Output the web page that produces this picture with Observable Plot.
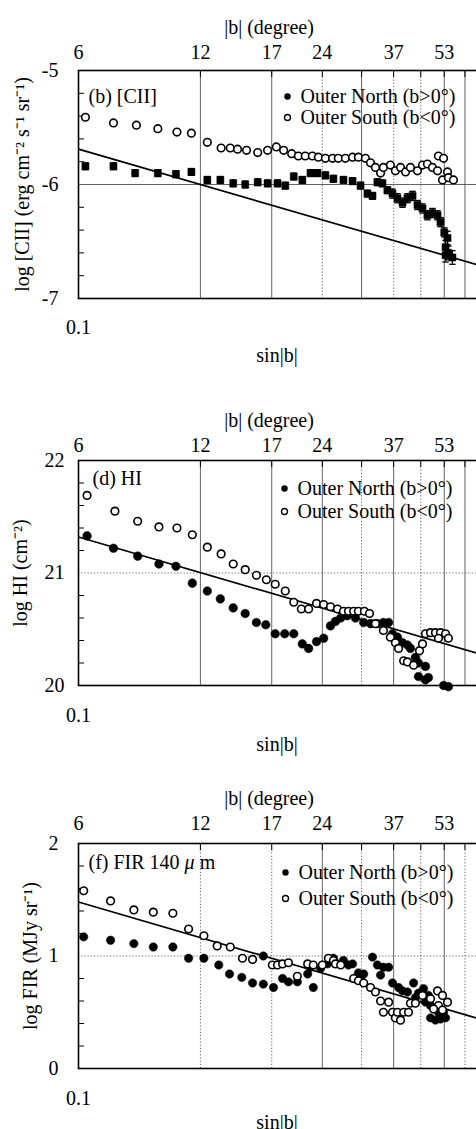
<!DOCTYPE html>
<html>
<head>
<meta charset="utf-8">
<script src="https://cdn.jsdelivr.net/npm/d3@7"></script>
<script src="https://cdn.jsdelivr.net/npm/@observablehq/plot@0.6"></script>
<style>
  html, body { margin: 0; padding: 0; background: #fff; overflow: hidden; }
  #chart { width: 476px; }
  #chart svg { display: block; }
</style>
</head>
<body>
<div id="chart"></div>
<script>
// ---------- shared axis data ----------
const degLabels  = ["6", "12", "17", "24", "37", "53"];
const degTickSin = [0.1, 0.2, 0.3, 0.4, 0.6, 0.8];
const topTickSin = [0.2, 0.3, 0.4, 0.5, 0.6, 0.7, 0.8, 0.9];
const bottomTicks = [0.1, 1];
const fitSin = [0.1, 1];

// ---------- (b) [CII] ----------
const ciiNorthSin = [0.104,0.122,0.138,0.157,0.174,0.190,0.208,0.224,0.241,0.258,0.277,0.293,0.310,0.324,0.340,0.357,0.374,0.389,0.407,0.426,0.451,0.475,0.497,0.517,0.532,0.547,0.563,0.579,0.596,0.613,0.631,0.649,0.668,0.687,0.707,0.727,0.748,0.770,0.783,0.800,0.815,0.806,0.819,0.838,0.806];
const ciiNorthLog = [-5.84,-5.84,-5.90,-5.90,-5.91,-5.89,-5.96,-5.96,-5.99,-6.00,-5.98,-5.99,-5.99,-6.01,-5.93,-5.96,-5.90,-5.90,-5.92,-5.95,-5.96,-5.97,-6.01,-6.08,-6.10,-5.98,-5.99,-6.05,-6.08,-6.12,-6.16,-6.12,-6.10,-6.18,-6.21,-6.27,-6.25,-6.27,-6.33,-6.42,-6.47,-6.55,-6.60,-6.64,-6.62];
const ciiNorthErr = [0.03,0.03,0.03,0.03,0.03,0.03,0.03,0.03,0.03,0.03,0.03,0.03,0.03,0.03,0.03,0.03,0.03,0.03,0.03,0.03,0.03,0.03,0.03,0.03,0.03,0.03,0.03,0.03,0.04,0.04,0.04,0.04,0.04,0.04,0.04,0.04,0.04,0.04,0.04,0.04,0.06,0.06,0.06,0.06,0.06];
const ciiSouthSin = [0.104,0.122,0.139,0.157,0.175,0.190,0.208,0.225,0.237,0.247,0.260,0.277,0.293,0.308,0.321,0.336,0.349,0.363,0.378,0.391,0.407,0.424,0.438,0.456,0.475,0.491,0.511,0.526,0.541,0.557,0.566,0.589,0.606,0.624,0.642,0.660,0.687,0.707,0.727,0.748,0.770,0.774,0.797,0.815,0.792,0.819,0.843];
const ciiSouthLog = [-5.41,-5.46,-5.48,-5.51,-5.54,-5.55,-5.63,-5.68,-5.68,-5.69,-5.70,-5.72,-5.70,-5.67,-5.70,-5.73,-5.75,-5.75,-5.75,-5.76,-5.77,-5.77,-5.77,-5.77,-5.76,-5.76,-5.77,-5.81,-5.85,-5.90,-5.85,-5.83,-5.88,-5.85,-5.89,-5.85,-5.88,-5.83,-5.82,-5.85,-5.88,-5.75,-5.77,-5.89,-5.96,-5.94,-5.96];
const ciiFit = [-5.69, -6.72];
const ciiYMajor = [-5, -6, -7];
const ciiYMinor = [-5.2,-5.4,-5.6,-5.8,-6.2,-6.4,-6.6,-6.8];

// ---------- (d) HI ----------
const hiNorthSin = [0.105,0.122,0.140,0.158,0.174,0.191,0.208,0.224,0.241,0.258,0.275,0.290,0.306,0.323,0.340,0.357,0.370,0.387,0.403,0.419,0.431,0.444,0.461,0.483,0.506,0.526,0.547,0.566,0.583,0.596,0.613,0.631,0.649,0.660,0.679,0.691,0.719,0.691,0.719,0.731,0.797,0.819];
const hiNorthLog = [21.33,21.22,21.15,21.08,21.06,20.91,20.84,20.77,20.69,20.64,20.56,20.54,20.46,20.46,20.46,20.37,20.33,20.39,20.42,20.53,20.57,20.60,20.62,20.60,20.56,20.55,20.55,20.56,20.56,20.46,20.43,20.38,20.36,20.33,20.25,20.20,20.17,20.08,20.05,20.07,20.00,19.99];
const hiSouthSin = [0.105,0.123,0.140,0.158,0.175,0.191,0.208,0.225,0.241,0.258,0.275,0.291,0.306,0.324,0.340,0.355,0.370,0.387,0.403,0.419,0.436,0.451,0.464,0.478,0.491,0.508,0.523,0.541,0.566,0.589,0.606,0.617,0.635,0.649,0.672,0.695,0.707,0.719,0.740,0.761,0.783,0.806,0.819,0.774];
const hiSouthLog = [21.69,21.55,21.46,21.41,21.40,21.34,21.23,21.17,21.08,21.03,20.98,20.94,20.90,20.84,20.74,20.68,20.68,20.73,20.72,20.70,20.68,20.66,20.66,20.66,20.66,20.66,20.64,20.55,20.49,20.43,20.38,20.33,20.22,20.21,20.18,20.31,20.37,20.46,20.47,20.47,20.47,20.46,20.42,20.42];
const hiFit = [21.32, 20.27];
const hiYMajor = [22, 21, 20];
const hiYMinor = [21.8,21.6,21.4,21.2,20.8,20.6,20.4,20.2];

// ---------- (f) FIR 140 um ----------
const firNorthSin = [0.103,0.120,0.137,0.153,0.171,0.187,0.204,0.222,0.236,0.253,0.269,0.286,0.303,0.286,0.319,0.330,0.347,0.368,0.380,0.374,0.396,0.412,0.426,0.419,0.431,0.451,0.464,0.475,0.491,0.506,0.497,0.532,0.547,0.566,0.583,0.557,0.596,0.617,0.631,0.649,0.672,0.691,0.679,0.711,0.731,0.740,0.740,0.761,0.783,0.806,0.797,0.774,0.719];
const firNorthLog = [1.17,1.14,1.11,1.08,1.08,0.98,0.98,0.92,0.84,0.81,0.76,0.75,0.72,1.00,0.80,0.77,0.77,0.84,0.72,0.90,0.89,0.93,0.98,0.96,0.94,0.96,0.92,0.93,0.85,0.84,0.81,0.99,0.92,0.90,0.90,0.83,0.76,0.72,0.69,0.68,0.76,0.67,0.63,0.71,0.65,0.56,0.45,0.43,0.44,0.45,0.50,0.50,0.59];
const firSouthSin = [0.103,0.120,0.137,0.153,0.171,0.187,0.204,0.220,0.237,0.254,0.269,0.301,0.310,0.319,0.330,0.347,0.368,0.380,0.400,0.414,0.426,0.431,0.444,0.478,0.491,0.506,0.526,0.541,0.557,0.583,0.566,0.596,0.606,0.624,0.613,0.635,0.653,0.660,0.679,0.707,0.740,0.770,0.792,0.774,0.815,0.792,0.753];
const firSouthLog = [1.58,1.49,1.41,1.39,1.38,1.24,1.18,1.09,1.08,0.98,0.97,0.92,0.92,0.93,0.94,0.82,0.93,0.92,0.92,0.98,0.96,0.93,0.92,0.80,0.78,0.76,0.72,0.68,0.60,0.59,0.50,0.50,0.45,0.43,0.50,0.50,0.50,0.58,0.58,0.65,0.62,0.69,0.65,0.56,0.59,0.52,0.53];
const firFit = [1.48, 0.43];
const firYMajor = [2, 1, 0];
const firYMinor = [1.8,1.6,1.4,1.2,0.8,0.6,0.4,0.2];

const legendNorth = "Outer North (b>0°)";
const legendSouth = "Outer South (b<0°)";

// custom symbol: horizontal cap of an error bar
const capSymbol = {
  draw(context, size) {
    const w = Math.sqrt(size / Math.PI);
    context.moveTo(-w, 0);
    context.lineTo(w, 0);
  }
};

function makePanel(p) {
  const W = 476, ML = 78, MR = -7;
  const H = p.height, mt = p.marginTop, mb = p.marginBottom;
  const plotH = H - mt - mb, plotW = W - ML - MR;
  const north = p.northSin.map((x, i) => ({x, y: p.northLog[i], e: p.northErr ? p.northErr[i] : 0}));
  const south = p.southSin.map((x, i) => ({x, y: p.southLog[i]}));
  const fit = fitSin.map((x, i) => ({x, y: p.fit[i]}));
  const degMap = new Map(degTickSin.map((d, i) => [d, degLabels[i]]));
  const T = {lineAnchor: "middle"};

  const marks = [
    Plot.ruleX(p.gridSolid, {stroke: "#3c3c3c", strokeWidth: 0.8}),
    Plot.ruleX(p.gridDotted, {stroke: "#3c3c3c", strokeWidth: 0.8, strokeDasharray: "1.2,2"}),
    Plot.ruleY([p.hGrid], {stroke: "#3c3c3c", strokeWidth: 0.8, strokeDasharray: p.hDash}),
    Plot.tickX(topTickSin, {x: d => d, insetBottom: plotH - 7, stroke: "black", strokeWidth: 1}),
    Plot.tickY(p.yMinor, {y: d => d, insetRight: plotW - 6, stroke: "black", strokeWidth: 1}),
    Plot.line(fit, {x: "x", y: "y", stroke: "black", strokeWidth: 1.7, clip: true})
  ];
  if (p.northErr) {
    marks.push(
      Plot.ruleX(north, {x: "x", y1: d => d.y - d.e, y2: d => d.y + d.e, stroke: "black", strokeWidth: 1.3}),
      Plot.dot(north, {x: "x", y: d => d.y - d.e, symbol: capSymbol, r: 3.2, stroke: "black", fill: "none", strokeWidth: 1.3}),
      Plot.dot(north, {x: "x", y: d => d.y + d.e, symbol: capSymbol, r: 3.2, stroke: "black", fill: "none", strokeWidth: 1.3})
    );
  }
  marks.push(
    Plot.dot(north, {x: "x", y: "y", r: p.northR, symbol: p.northSymbol, fill: "black", stroke: "black", strokeWidth: 0.5}),
    Plot.dot(south, {x: "x", y: "y", r: 3.8, fill: "white", stroke: "black", strokeWidth: 1.6}),
    Plot.frame({stroke: "black", strokeWidth: 1.6}),
    // axis texts
    Plot.text(p.yMajor, {...T, y: d => d, text: d => String(d), frameAnchor: "left", dx: p.yTickDx, textAnchor: "end"}),
    Plot.text(degTickSin, {...T, x: d => d, text: d => degMap.get(d), frameAnchor: "top", dy: p.degDy, textAnchor: "middle"}),
    Plot.text(["|b| (degree)"], {...T, text: d => d, frameAnchor: "top", dx: -12, dy: p.degTitleDy, textAnchor: "middle"}),
    Plot.text(bottomTicks, {...T, x: d => d, text: d => String(d), frameAnchor: "bottom", dy: p.botDy, textAnchor: "middle"}),
    Plot.text(["sin|b|"], {...T, text: d => d, frameAnchor: "bottom", dx: -4, dy: p.sinDy, textAnchor: "middle"}),
    Plot.text([p.yTitle], {...T, text: d => d, frameAnchor: "left", rotate: -90, dx: p.yTitleDx, textAnchor: "middle"}),
    // panel label
    Plot.text([p.panelLabel], {...T, text: d => d, frameAnchor: "top-left", textAnchor: "start", dx: p.labelDx, dy: p.labelDy}),
    // legend
    Plot.dot([0], {frameAnchor: "top-left", dx: p.legDx, dy: p.legDy1, r: 3.2, fill: "black"}),
    Plot.dot([0], {frameAnchor: "top-left", dx: p.legDx, dy: p.legDy2, r: 3, fill: "white", stroke: "black", strokeWidth: 1.4}),
    Plot.text([legendNorth], {...T, text: d => d, frameAnchor: "top-left", textAnchor: "start", dx: p.legDx + 13, dy: p.legDy1}),
    Plot.text([legendSouth], {...T, text: d => d, frameAnchor: "top-left", textAnchor: "start", dx: p.legDx + 13, dy: p.legDy2})
  );

  return Plot.plot({
    width: W,
    height: H,
    marginLeft: ML,
    marginRight: MR,
    marginTop: mt,
    marginBottom: mb,
    style: {fontFamily: "'Liberation Serif', 'Times New Roman', serif", fontSize: "20px", color: "black", background: "white"},
    x: {type: "log", domain: [0.1, 1], axis: null},
    y: {domain: p.yDomain, axis: null},
    marks
  });
}

const panels = [
  {
    height: 376, marginTop: 70, marginBottom: 78,
    northSin: ciiNorthSin, northLog: ciiNorthLog, northErr: ciiNorthErr, northSymbol: "square", northR: 4,
    southSin: ciiSouthSin, southLog: ciiSouthLog, fit: ciiFit,
    yDomain: [-7, -5], yMajor: ciiYMajor, yMinor: ciiYMinor, hGrid: -6, hDash: null,
    gridSolid: [0.2, 0.3, 0.5, 0.8, 0.9], gridDotted: [0.4, 0.6, 0.7],
    yTickDx: -20, degDy: -18, degTitleDy: -43, botDy: 29, sinDy: 57, yTitleDx: -56,
    yTitle: "log [CII] (erg cm⁻² s⁻¹ sr⁻¹)", panelLabel: "(b) [CII]", labelDx: 10, labelDy: 26,
    legDx: 209, legDy1: 26, legDy2: 47
  },
  {
    height: 384, marginTop: 84, marginBottom: 75,
    northSin: hiNorthSin, northLog: hiNorthLog, northErr: null, northSymbol: "circle", northR: 4.3,
    southSin: hiSouthSin, southLog: hiSouthLog, fit: hiFit,
    yDomain: [20, 22], yMajor: hiYMajor, yMinor: hiYMinor, hGrid: 21, hDash: "1.2,2",
    gridSolid: [0.2, 0.3, 0.4, 0.6, 0.8, 0.9], gridDotted: [0.5, 0.7],
    yTickDx: -14, degDy: -15, degTitleDy: -40, botDy: 30, sinDy: 59, yTitleDx: -58,
    yTitle: "log HI (cm⁻²)", panelLabel: "(d) HI", labelDx: 14, labelDy: 18,
    legDx: 206, legDy1: 28, legDy2: 51
  },
  {
    height: 369, marginTop: 83, marginBottom: 61,
    northSin: firNorthSin, northLog: firNorthLog, northErr: null, northSymbol: "circle", northR: 4.2,
    southSin: firSouthSin, southLog: firSouthLog, fit: firFit,
    yDomain: [0, 2], yMajor: firYMajor, yMinor: firYMinor, hGrid: 1, hDash: "1.2,2",
    gridSolid: [0.4, 0.6, 0.8], gridDotted: [0.2, 0.3, 0.5, 0.7, 0.9],
    yTickDx: -20, degDy: -20, degTitleDy: -45, botDy: 30, sinDy: 54, yTitleDx: -48,
    yTitle: "log FIR (MJy sr⁻¹)", panelLabel: "(f) FIR 140 μm", labelDx: 10, labelDy: 19,
    legDx: 207, legDy1: 29, legDy2: 55
  }
];

const chart = document.getElementById("chart");
for (const p of panels) {
  const svg = makePanel(p);
  // italic mu in the FIR panel label
  svg.querySelectorAll("text").forEach(t => {
    if (t.textContent === "(f) FIR 140 μm") {
      t.textContent = "";
      const s = d3.select(t);
      s.append("tspan").text("(f) FIR 140 ");
      s.append("tspan").attr("font-style", "italic").text("μ");
      s.append("tspan").text(" m");
    }
  });
  chart.appendChild(svg);
}
</script>
</body>
</html>
